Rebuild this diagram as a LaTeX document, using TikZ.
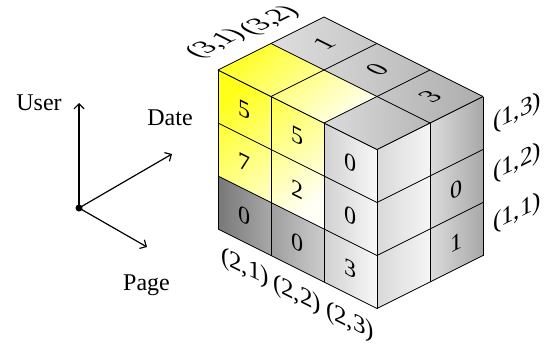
\documentclass[tikz,border=0pt]{standalone}
\usepackage{fontspec}
\setmainfont{Liberation Serif}
\usetikzlibrary{arrows.meta}
\definecolor{ga}{gray}{0.47}
\definecolor{gb}{gray}{0.66}
\definecolor{gc}{gray}{0.62}
\definecolor{gd}{gray}{0.80}
\definecolor{ge}{gray}{0.82}
\definecolor{gf}{gray}{0.97}
\definecolor{gg}{gray}{0.85}
\definecolor{gh}{gray}{0.96}
\definecolor{gi}{gray}{0.86}
\definecolor{gj}{gray}{0.66}
\definecolor{tk}{gray}{0.87}
\definecolor{tl}{gray}{0.78}
\definecolor{tm}{gray}{0.83}
\definecolor{tn}{gray}{0.73}
\definecolor{to}{gray}{0.78}
\definecolor{tp}{gray}{0.68}
\definecolor{tq}{gray}{0.86}
\definecolor{tr}{gray}{0.72}
\begin{document}
\begin{tikzpicture}[x=1pt,y=-1pt,
  grid/.style={draw=black,line width=0.8pt,line join=round},
  axis/.style={line width=1.2pt,-{Straight Barb[length=5pt,width=10pt,line width=1.2pt]}},
  word/.style={font=\fontsize{24}{28}\selectfont,inner sep=0pt,anchor=base},
  num/.style={font=\fontsize{24}{28}\selectfont,inner sep=0pt},
  fnum/.style={num,yslant=-0.5},
  rnum/.style={num,yslant=0.5},
  tnum/.style={num,cm={1,0.5,-1,0.5,(0,0)}},
  lab/.style={font=\fontsize{25}{30}\selectfont,inner sep=0pt},
]
\useasboundingbox (0,0) rectangle (551,345);

% ---------- front face (Page x User)
\begin{scope}[shift={(218,70)},x={(53pt,-26.5pt)},y={(0pt,-53pt)}]
  \shade[top color=yellow!90,middle color=yellow!55,bottom color=yellow!4,shading angle=40]
    (0,0)--(2,0)--(2,2)--(0,2)--cycle;
  \shade[left color=ga,right color=gb] (0,2)--(1,2)--(1,3)--(0,3)--cycle;
  \shade[left color=gc,right color=gd] (1,2)--(2,2)--(2,3)--(1,3)--cycle;
  \shade[left color=ge,right color=gf] (2,0)--(3,0)--(3,3)--(2,3)--cycle;
  \foreach \p in {0,1,2,3} \draw[grid] (\p,0)--(\p,3);
  \foreach \r in {0,1,2,3} \draw[grid] (0,\r)--(3,\r);
\end{scope}

% ---------- right face (Date x User)
\begin{scope}[shift={(377,149.5)},x={(53pt,26.5pt)},y={(0pt,-53pt)}]
  \shade[left color=gg,right color=gh] (0,0)--(1,0)--(1,3)--(0,3)--cycle;
  \shade[left color=gi,right color=gj] (1,0)--(2,0)--(2,3)--(1,3)--cycle;
  \foreach \d in {0,1,2} \draw[grid] (\d,0)--(\d,3);
  \foreach \r in {0,1,2,3} \draw[grid] (0,\r)--(2,\r);
\end{scope}

% ---------- top face (Page x Date)
\begin{scope}[shift={(218,70)},x={(53pt,-26.5pt)},y={(53pt,26.5pt)}]
  \shade[top color=yellow!85,middle color=yellow!50,bottom color=yellow!8,shading angle=40]
    (0,0)--(0,1)--(2,1)--(2,0)--cycle;
  \shade[left color=tk,right color=tl] (0,1)--(0,2)--(1,2)--(1,1)--cycle;
  \shade[left color=tm,right color=tn] (1,1)--(1,2)--(2,2)--(2,1)--cycle;
  \shade[left color=to,right color=tp] (2,1)--(2,2)--(3,2)--(3,1)--cycle;
  \shade[left color=tq,right color=tr] (2,0)--(2,1)--(3,1)--(3,0)--cycle;
  \foreach \p in {0,1,2,3} \draw[grid] (\p,0)--(\p,2);
  \foreach \d in {0,1,2} \draw[grid] (0,\d)--(3,\d);
\end{scope}

% ---------- cell values, front face
\node[fnum] (f00) at (244.5,109.75) {5};
\node[fnum] (f10) at (297.5,136.25) {5};
\node[fnum] (f20) at (350.5,162.75) {0};
\node[fnum] (f01) at (244.5,162.75) {7};
\node[fnum] (f11) at (297.5,189.25) {2};
\node[fnum] (f21) at (350.5,215.75) {0};
\node[fnum] (f02) at (244.5,215.75) {0};
\node[fnum] (f12) at (297.5,242.25) {0};
\node[fnum] (f22) at (350.5,268.75) {3};
% right face
\node[rnum] (r11) at (456.5,189.25) {0};
\node[rnum] (r12) at (456.5,242.25) {1};
% top face
\node[tnum] (t01) at (324,43.5) {1};
\node[tnum] (t11) at (377,70) {0};
\node[tnum] (t21) at (430,96.5) {3};

% ---------- coordinate labels
\node[lab,cm={1,0.5,-1,0.5,(0,0)}] (l31) at (216,44) {(3,1)};
\node[lab,cm={1,0.5,-1,0.5,(0,0)}] (l32) at (270,21) {(3,2)};
\node[lab,yslant=0.5] (l13) at (517,113) {(1,3)};
\node[lab,yslant=0.5] (l12) at (517,163) {(1,2)};
\node[lab,yslant=0.5] (l11) at (517,213) {(1,1)};
\node[lab,yslant=-0.5] (l21) at (245,268) {(2,1)};
\node[lab,yslant=-0.5] (l22) at (297,295) {(2,2)};
\node[lab,yslant=-0.5] (l23) at (350,322) {(2,3)};

% ---------- axes
\node[circle,fill=black,inner sep=0pt,minimum size=7pt] (o) at (79,208) {};
\coordinate (au) at (79,103);
\coordinate (ad) at (172,154);
\coordinate (ap) at (147,247);
\draw[axis] (o.center) -- (au);
\draw[axis] (o.center) -- (ad);
\draw[axis] (o.center) -- (ap);
\node[word] (user) at (39,110) {User};
\node[word] (date) at (170,125) {Date};
\node[word] (page) at (146.5,290) {Page};
\end{tikzpicture}
\end{document}
